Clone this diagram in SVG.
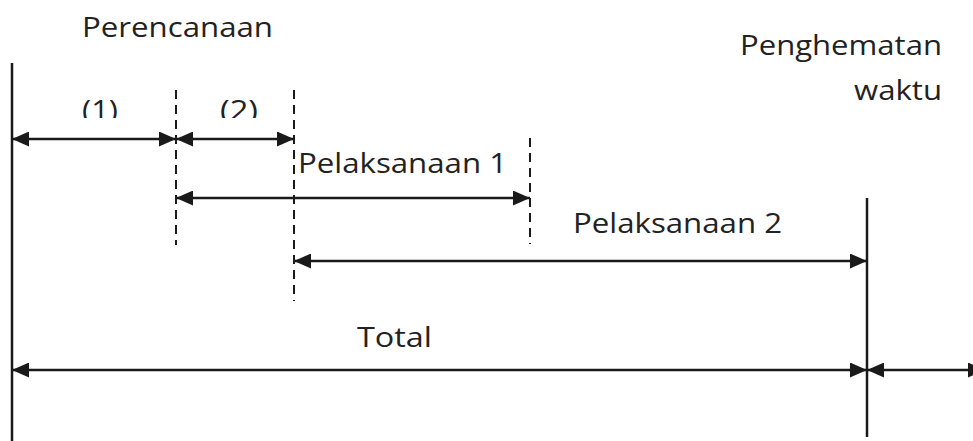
<svg xmlns="http://www.w3.org/2000/svg" width="973" height="441" viewBox="0 0 973 441">
<style>
  text { font-family: "Open Sans", "Liberation Sans", sans-serif; font-size: 28px; fill: #222; }
  .solid { stroke: #1a1a1a; stroke-width: 2.5; fill: none; }
  .dash { stroke: #1a1a1a; stroke-width: 2; stroke-dasharray: 9 6; fill: none; }
  .arr { stroke: #1a1a1a; stroke-width: 2.5; fill: none; marker-start: url(#ah); marker-end: url(#ah); }
</style>
<defs>
  <marker id="ah" markerUnits="userSpaceOnUse" markerWidth="17" markerHeight="15" refX="17" refY="7.5" orient="auto-start-reverse" viewBox="0 0 17 15">
    <path d="M0,0 L17,7.5 L0,15 z" fill="#1a1a1a"/>
  </marker>
  <clipPath id="clipTop"><rect x="0" y="0" width="973" height="118"/></clipPath>
</defs>
<rect width="973" height="441" fill="#fff"/>

<g id="boundaries">
  <line class="solid" x1="12" y1="63" x2="12" y2="441"/>
  <line class="dash" x1="176" y1="90" x2="176" y2="245"/>
  <line class="dash" x1="294" y1="90" x2="294" y2="301"/>
  <line class="dash" x1="530" y1="138" x2="530" y2="244"/>
  <line class="solid" x1="867" y1="198" x2="867" y2="437"/>
</g>

<g id="perencanaan"><text x="82" y="37" textLength="191" lengthAdjust="spacingAndGlyphs">Perencanaan</text></g>
<g id="tahap1" clip-path="url(#clipTop)"><text x="82" y="120" textLength="36" lengthAdjust="spacingAndGlyphs">(1)</text></g>
<g id="tahap2" clip-path="url(#clipTop)"><text x="220" y="120" textLength="38" lengthAdjust="spacingAndGlyphs">(2)</text></g>
<g id="pelaksanaan1"><text x="298" y="173" textLength="209" lengthAdjust="spacingAndGlyphs">Pelaksanaan 1</text></g>
<g id="pelaksanaan2"><text x="573" y="233" textLength="209" lengthAdjust="spacingAndGlyphs">Pelaksanaan 2</text></g>
<g id="total"><text x="357" y="347" textLength="75" lengthAdjust="spacingAndGlyphs">Total</text></g>
<g id="penghematan">
  <text x="740" y="55" textLength="202" lengthAdjust="spacingAndGlyphs">Penghematan</text>
  <text x="854" y="100" textLength="88" lengthAdjust="spacingAndGlyphs">waktu</text>
</g>

<g id="connectors">
  <line class="arr" x1="12" y1="139" x2="176" y2="139"/>
  <line class="arr" x1="176" y1="139" x2="294" y2="139"/>
  <line class="arr" x1="176" y1="198" x2="530" y2="198"/>
  <line class="arr" x1="294" y1="261" x2="867" y2="261"/>
  <line class="arr" x1="12" y1="370" x2="867" y2="370"/>
  <line class="arr" x1="867" y1="370" x2="985" y2="370"/>
</g>
</svg>
